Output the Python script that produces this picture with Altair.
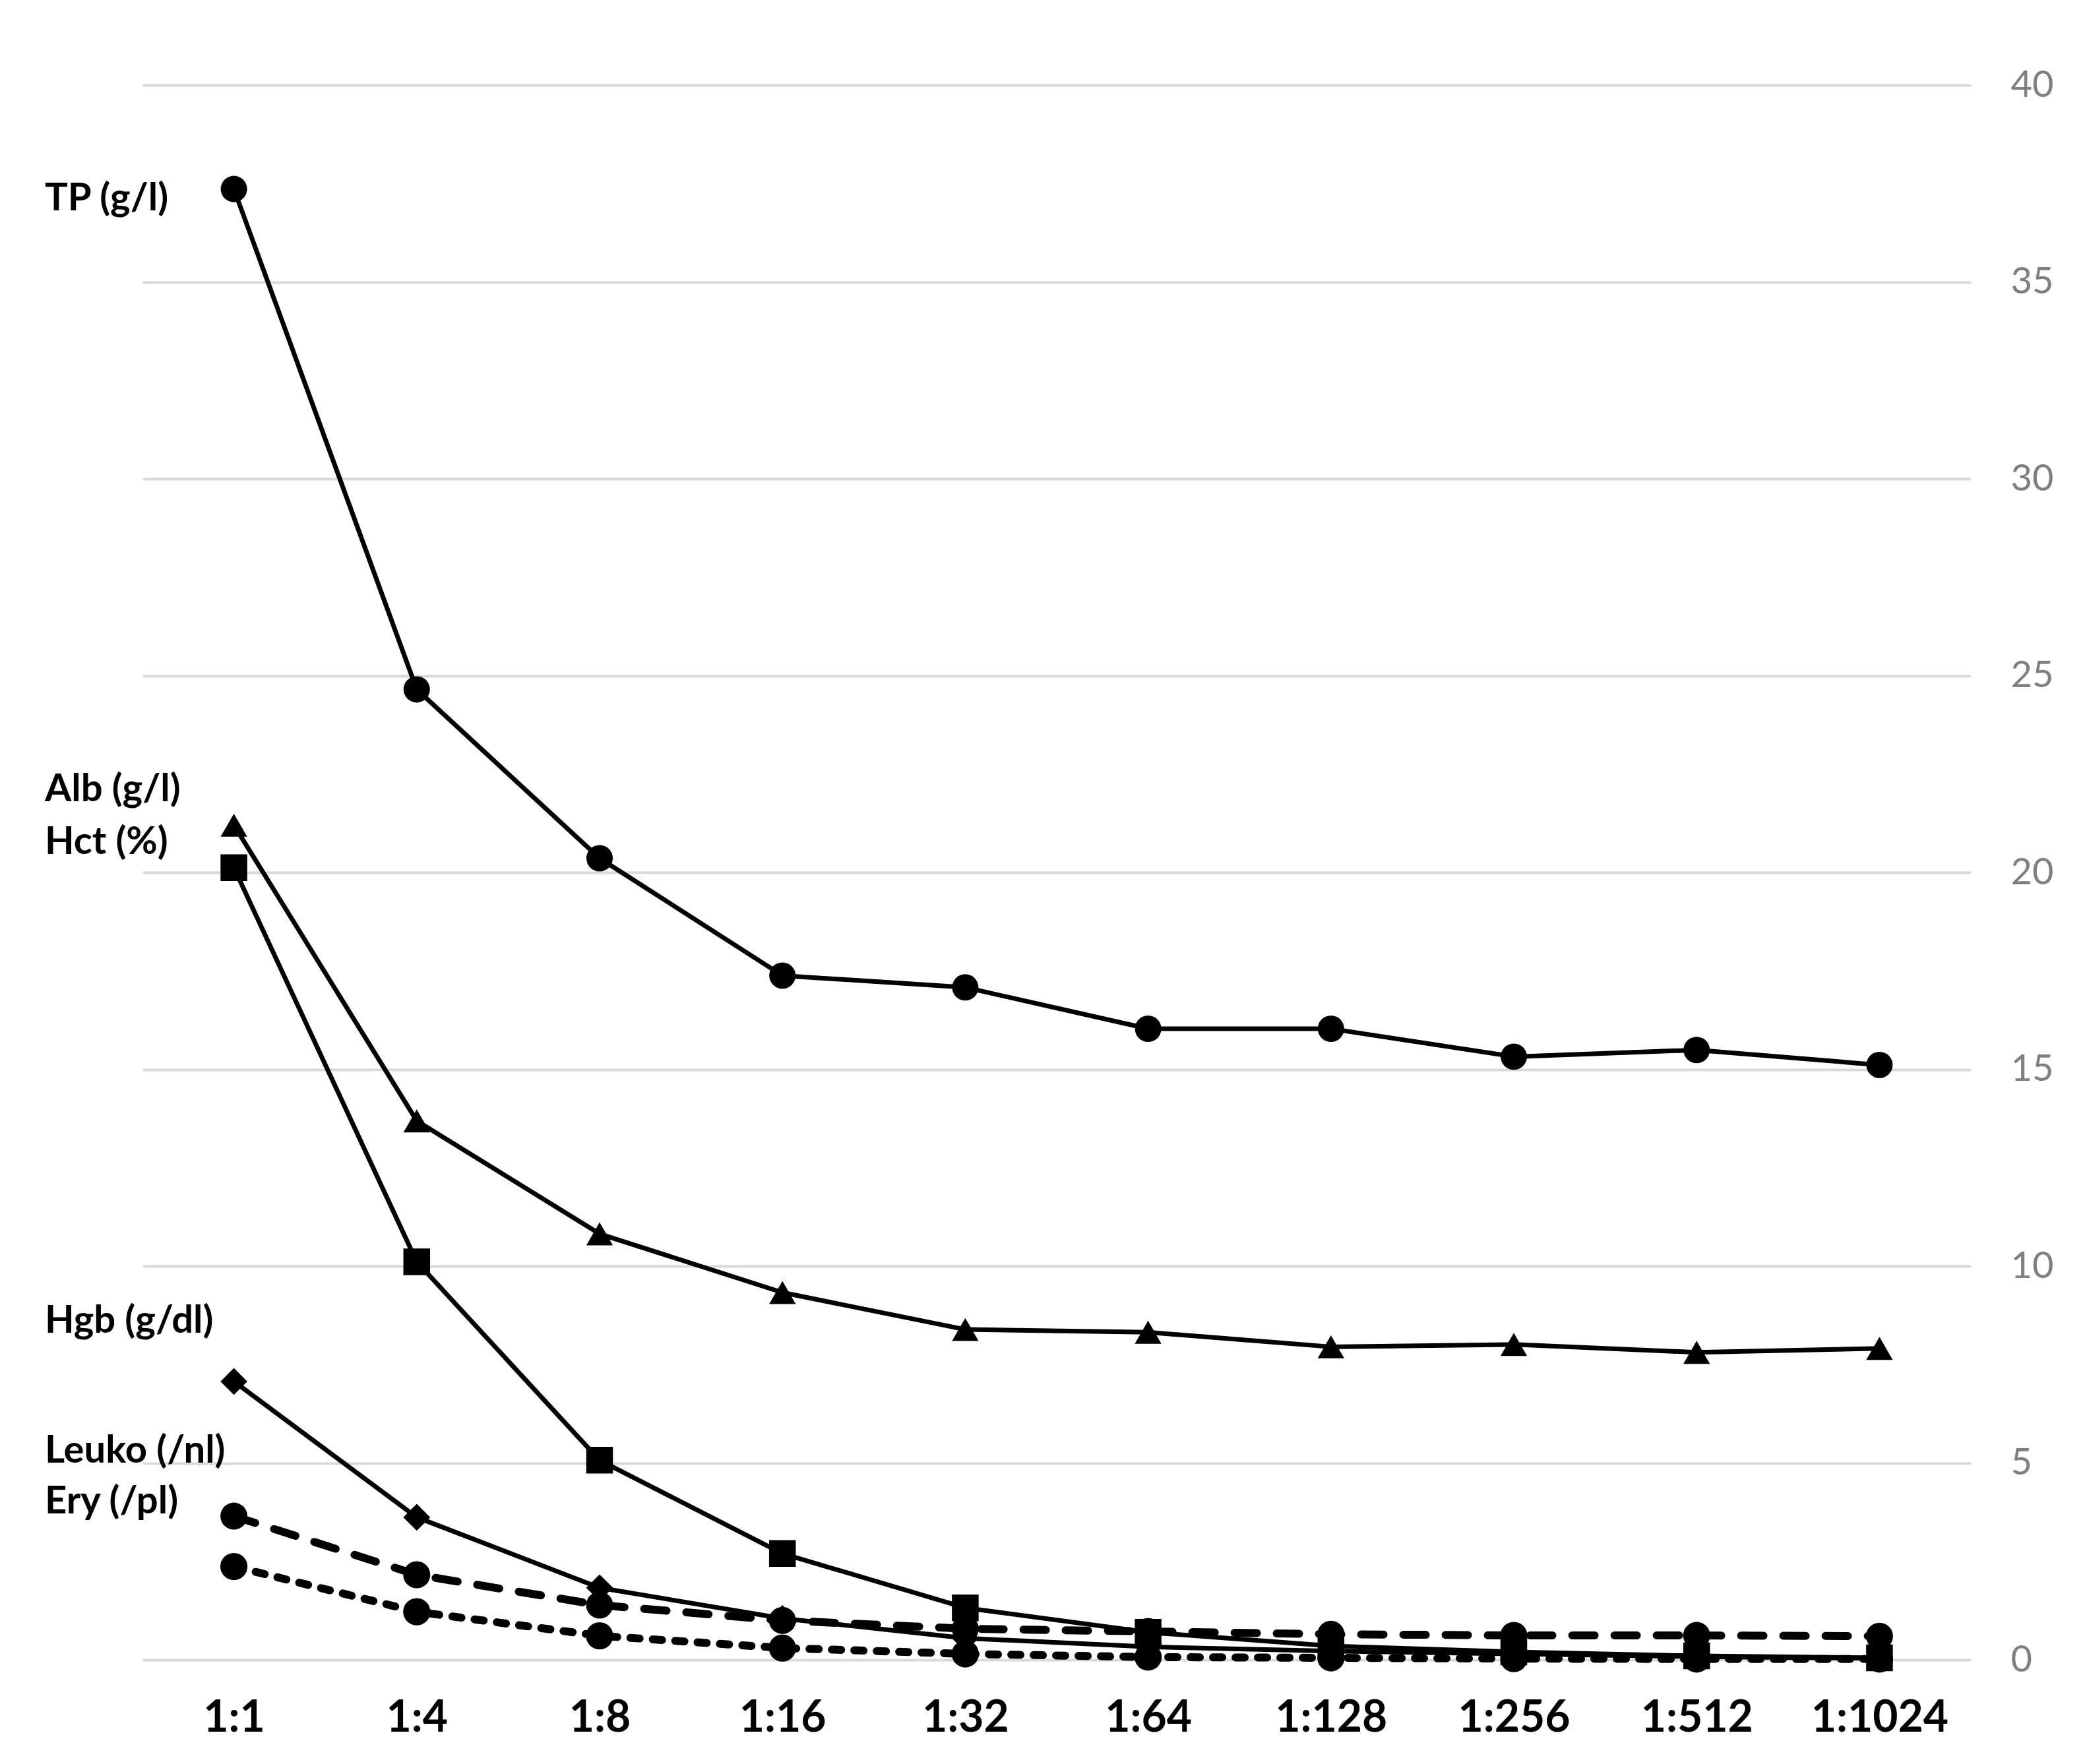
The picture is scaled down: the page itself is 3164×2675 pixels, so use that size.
import altair as alt
import pandas as pd

dilutions = ["1:1", "1:4", "1:8", "1:16", "1:32", "1:64", "1:128", "1:256", "1:512", "1:1024"]
series_names = ["TP", "Alb", "Hct", "Hgb", "Leuko", "Ery"]

tp = [37.36, 24.65, 20.36, 17.38, 17.08, 16.03, 16.03, 15.32, 15.49, 15.11]
alb = [21.2, 13.69, 10.82, 9.33, 8.39, 8.32, 7.95, 8.01, 7.81, 7.91]
hct = [20.12, 10.11, 5.07, 2.70, 1.32, 0.70, 0.35, 0.20, 0.10, 0.05]
hgb = [7.07, 3.62, 1.83, 1.05, 0.55, 0.33, 0.22, 0.15, 0.08, 0.04]
leuko = [3.65, 2.16, 1.39, 1.00, 0.79, 0.72, 0.65, 0.62, 0.62, 0.60]
ery = [2.37, 1.22, 0.61, 0.30, 0.15, 0.07, 0.05, 0.03, 0.02, 0.02]

label_texts = ["TP (g/l)", "Alb (g/l)", "Hct (%)", "Hgb (g/dl)", "Leuko (/nl)", "Ery (/pl)"]
label_values = [37.1, 22.1, 20.75, 8.6, 5.3, 4.0]

y_ticks = [0, 5, 10, 15, 20, 25, 30, 35, 40]

rows = []
for name, vals in zip(series_names, [tp, alb, hct, hgb, leuko, ery]):
    for d, v in zip(dilutions, vals):
        rows.append({"series": name, "dilution": d, "value": v})
df = pd.DataFrame(rows)
labels_df = pd.DataFrame({"label": label_texts, "value": label_values})

FONT = "Lato"

x_enc = alt.X(
    "dilution:N",
    sort=dilutions,
    scale=alt.Scale(type="point", padding=0.5),
    axis=alt.Axis(
        title=None, domain=False, ticks=False, grid=False,
        labelFont=FONT, labelFontSize=66, labelFontWeight="bold",
        labelColor="#000000", labelPadding=56, labelAngle=0, labelLimit=0,
    ),
)
y_enc = alt.Y(
    "value:Q",
    scale=alt.Scale(domain=[0, 40], nice=False, zero=True),
    axis=alt.Axis(
        title=None, orient="right", domain=False, ticks=False,
        values=y_ticks, format="d", grid=True, gridColor="#d9d9d9", gridWidth=4,
        labelFont=FONT, labelFontSize=56, labelColor="#7f7f7f",
        labelPadding=60, labelAlign="left", labelLimit=0,
    ),
)

base = alt.Chart(df)

solid = base.transform_filter(
    alt.FieldOneOfPredicate(field="series", oneOf=["TP", "Alb", "Hct", "Hgb"])
).mark_line(color="#000000", strokeWidth=7, strokeCap="round", strokeJoin="round").encode(
    x=x_enc, y=y_enc, detail="series:N",
)

leuko_line = base.transform_filter(alt.datum.series == "Leuko").mark_line(
    color="#000000", strokeWidth=12, strokeCap="round", strokeDash=[34, 30]
).encode(x=alt.X("dilution:N", sort=dilutions), y=alt.Y("value:Q"))

ery_line = base.transform_filter(alt.datum.series == "Ery").mark_line(
    color="#000000", strokeWidth=12, strokeCap="round", strokeDash=[14, 20]
).encode(x=alt.X("dilution:N", sort=dilutions), y=alt.Y("value:Q"))

points = base.mark_point(filled=True, color="#000000", opacity=1).encode(
    x=alt.X("dilution:N", sort=dilutions),
    y=alt.Y("value:Q"),
    shape=alt.Shape(
        "series:N",
        scale=alt.Scale(domain=series_names,
                        range=["circle", "triangle-up", "square", "diamond", "circle", "circle"]),
        legend=None,
    ),
    size=alt.Size(
        "series:N",
        scale=alt.Scale(domain=series_names, range=[1600, 1700, 1600, 800, 1400, 1300]),
        legend=None,
    ),
)

texts = alt.Chart(labels_df).mark_text(
    align="left", baseline="middle", font=FONT, fontSize=58, fontWeight="bold", color="#000000"
).encode(
    x=alt.value(-148),
    y=alt.Y("value:Q"),
    text="label:N",
)

chart = alt.layer(solid, leuko_line, ery_line, points, texts).properties(
    width=2772,
    height=2388,
    autosize=alt.AutoSizeParams(type="none"),
    padding={"left": 208, "top": 121, "right": 168, "bottom": 150},
    background="#ffffff",
).configure_view(stroke=None)

chart.save("out.html", embed_options={"renderer": "svg", "actions": False})
